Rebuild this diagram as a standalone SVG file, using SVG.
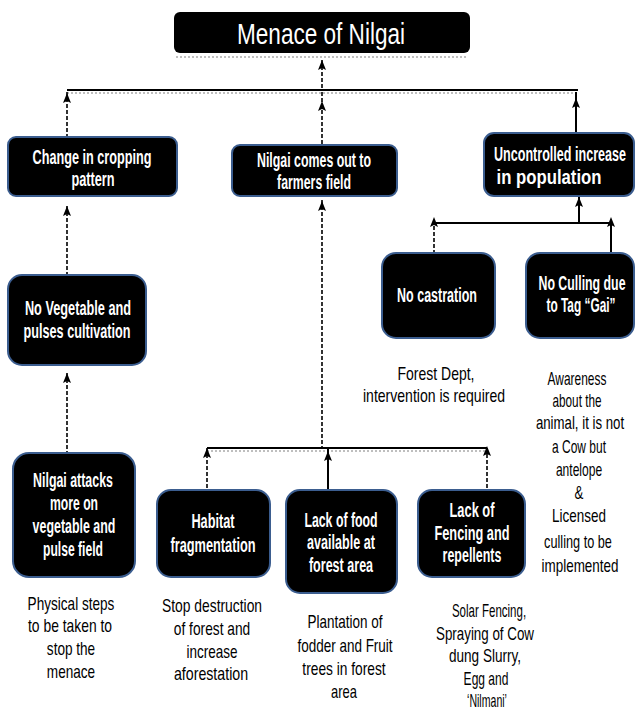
<svg xmlns="http://www.w3.org/2000/svg" xmlns:xlink="http://www.w3.org/1999/xlink" width="636" height="713" viewBox="0 0 636 713">
<style>
.box{fill:#000;stroke:#3b5d8f;stroke-width:2}
.bt{font-family:"Liberation Sans",Arial,sans-serif;font-weight:bold;font-size:21px;fill:#fff;text-anchor:middle}
.tt{font-family:"Liberation Sans",Arial,sans-serif;font-size:30px;fill:#fff;text-anchor:middle}
.pt{font-family:"Liberation Sans",Arial,sans-serif;font-size:19px;fill:#000;text-anchor:middle}
.ln{stroke:#000;stroke-width:2;fill:none}
.dl{stroke:#000;stroke-width:1.6;fill:none;stroke-dasharray:4 2}
.sh{stroke:#aaa;stroke-width:1.5;fill:none;stroke-dasharray:2 2}
</style>
<defs>
<path id="ah" d="M0,0 L-4,10 L0,8 L4,10 Z" fill="#000"/>
</defs>
<g id="connectors">
<line class="sh" x1="176" y1="57" x2="468" y2="57"/>
<line class="sh" x1="67" y1="93" x2="578" y2="93"/>
<line class="dl" x1="322" y1="60" x2="322" y2="90"/>
<line class="ln" x1="67" y1="90" x2="578" y2="90"/>
<line class="dl" x1="67" y1="92" x2="67" y2="137"/>
<line class="dl" x1="322" y1="92" x2="322" y2="145"/>
<line class="ln" x1="576" y1="92" x2="576" y2="133"/>
<line class="dl" x1="67" y1="206" x2="67" y2="275"/>
<line class="dl" x1="322" y1="200" x2="322" y2="448"/>
<line class="ln" x1="579" y1="197" x2="579" y2="223"/>
<line class="ln" x1="434" y1="223" x2="611" y2="223"/>
<line class="dl" x1="434" y1="220" x2="434" y2="253"/>
<line class="ln" x1="611" y1="220" x2="611" y2="254"/>
<line class="dl" x1="67" y1="373" x2="67" y2="453"/>
<line class="ln" x1="207" y1="448" x2="487" y2="448"/>
<line class="sh" x1="207" y1="451" x2="487" y2="451"/>
<line class="dl" x1="207" y1="448" x2="207" y2="490"/>
<line class="ln" x1="328" y1="448" x2="328" y2="490"/>
<line class="dl" x1="487" y1="448" x2="487" y2="490"/>
<use xlink:href="#ah" x="322" y="60"/>
<use xlink:href="#ah" x="67" y="93"/>
<use xlink:href="#ah" x="322" y="101"/>
<use xlink:href="#ah" x="576" y="98"/>
<use xlink:href="#ah" x="67" y="206"/>
<use xlink:href="#ah" x="322" y="201"/>
<use xlink:href="#ah" x="579" y="197"/>
<use xlink:href="#ah" x="434" y="217"/>
<use xlink:href="#ah" x="611" y="217"/>
<use xlink:href="#ah" x="67" y="373"/>
<use xlink:href="#ah" x="207" y="448"/>
<use xlink:href="#ah" x="328" y="451"/>
<use xlink:href="#ah" x="487" y="446"/>
</g>
<g id="title">
<rect x="174" y="12" width="296" height="41" rx="6" fill="#000"/>
<text class="tt" transform="translate(321,44) scale(0.75,1)" textLength="224" lengthAdjust="spacingAndGlyphs">Menace of Nilgai</text>
</g>
<g id="change">
<rect class="box" x="8" y="137" width="169" height="59" rx="8"/>
<text class="bt" transform="translate(92,164) scale(0.6,1)" textLength="198" lengthAdjust="spacingAndGlyphs">Change in cropping</text>
<text class="bt" transform="translate(93,186) scale(0.6,1)" textLength="72" lengthAdjust="spacingAndGlyphs">pattern</text>
</g>
<g id="comesout">
<rect class="box" x="232" y="145" width="165" height="51" rx="8"/>
<text class="bt" transform="translate(314,167) scale(0.6,1)" textLength="190" lengthAdjust="spacingAndGlyphs">Nilgai comes out to</text>
<text class="bt" transform="translate(314,189) scale(0.6,1)" textLength="123" lengthAdjust="spacingAndGlyphs">farmers field</text>
</g>
<g id="uncontrolled">
<rect class="box" x="484" y="133" width="150" height="63" rx="10"/>
<text class="bt" transform="translate(560,161) scale(0.6,1)" textLength="220" lengthAdjust="spacingAndGlyphs">Uncontrolled increase</text>
<text class="bt" transform="translate(549,184) scale(0.6,1)" textLength="175" lengthAdjust="spacingAndGlyphs">in  population</text>
</g>
<g id="novegetable">
<rect class="box" x="8" y="275" width="138" height="90" rx="14"/>
<text class="bt" transform="translate(78,315) scale(0.6,1)" textLength="177" lengthAdjust="spacingAndGlyphs">No Vegetable and</text>
<text class="bt" transform="translate(77,338) scale(0.6,1)" textLength="178" lengthAdjust="spacingAndGlyphs">pulses cultivation</text>
</g>
<g id="nocastration">
<rect class="box" x="382" y="253" width="113" height="85" rx="14"/>
<text class="bt" transform="translate(437,302) scale(0.6,1)" textLength="133" lengthAdjust="spacingAndGlyphs">No castration</text>
</g>
<g id="noculling">
<rect class="box" x="526" y="253" width="108" height="85" rx="14"/>
<text class="bt" transform="translate(582,290) scale(0.6,1)" textLength="145" lengthAdjust="spacingAndGlyphs">No Culling due</text>
<text class="bt" transform="translate(581,312) scale(0.6,1)" textLength="115" lengthAdjust="spacingAndGlyphs">to Tag “Gai”</text>
</g>
<g id="attacks">
<rect class="box" x="13" y="453" width="122" height="124" rx="16"/>
<text class="bt" transform="translate(73,487) scale(0.6,1)" textLength="133" lengthAdjust="spacingAndGlyphs">Nilgai attacks</text>
<text class="bt" transform="translate(74,510) scale(0.6,1)" textLength="80" lengthAdjust="spacingAndGlyphs">more on</text>
<text class="bt" transform="translate(74,533) scale(0.6,1)" textLength="138" lengthAdjust="spacingAndGlyphs">vegetable and</text>
<text class="bt" transform="translate(73,556) scale(0.6,1)" textLength="100" lengthAdjust="spacingAndGlyphs">pulse field</text>
</g>
<g id="habitat">
<rect class="box" x="157" y="490" width="113" height="87" rx="14"/>
<text class="bt" transform="translate(213,528) scale(0.6,1)" textLength="72" lengthAdjust="spacingAndGlyphs">Habitat</text>
<text class="bt" transform="translate(213,552) scale(0.6,1)" textLength="142" lengthAdjust="spacingAndGlyphs">fragmentation</text>
</g>
<g id="lackfood">
<rect class="box" x="286" y="490" width="111" height="103" rx="14"/>
<text class="bt" transform="translate(341,527) scale(0.6,1)" textLength="122" lengthAdjust="spacingAndGlyphs">Lack of food</text>
<text class="bt" transform="translate(341,549) scale(0.6,1)" textLength="113" lengthAdjust="spacingAndGlyphs">available at</text>
<text class="bt" transform="translate(341,572) scale(0.6,1)" textLength="107" lengthAdjust="spacingAndGlyphs">forest area</text>
</g>
<g id="lackfencing">
<rect class="box" x="418" y="490" width="107" height="87" rx="14"/>
<text class="bt" transform="translate(472,517) scale(0.6,1)" textLength="75" lengthAdjust="spacingAndGlyphs">Lack of</text>
<text class="bt" transform="translate(472,540) scale(0.6,1)" textLength="125" lengthAdjust="spacingAndGlyphs">Fencing and</text>
<text class="bt" transform="translate(472,562) scale(0.6,1)" textLength="98" lengthAdjust="spacingAndGlyphs">repellents</text>
</g>
<g id="notes">
<text class="pt" transform="translate(436,380) scale(0.7,1)" textLength="110" lengthAdjust="spacingAndGlyphs">Forest Dept,</text>
<text class="pt" transform="translate(434,402) scale(0.7,1)" textLength="203" lengthAdjust="spacingAndGlyphs">intervention is required</text>
<text class="pt" transform="translate(577,385) scale(0.7,1)" textLength="84" lengthAdjust="spacingAndGlyphs">Awareness</text>
<text class="pt" transform="translate(577,407) scale(0.7,1)" textLength="70" lengthAdjust="spacingAndGlyphs">about the</text>
<text class="pt" transform="translate(580,429) scale(0.7,1)" textLength="126" lengthAdjust="spacingAndGlyphs">animal, it is not</text>
<text class="pt" transform="translate(579,453) scale(0.7,1)" textLength="77" lengthAdjust="spacingAndGlyphs">a Cow but</text>
<text class="pt" transform="translate(579,476) scale(0.7,1)" textLength="66" lengthAdjust="spacingAndGlyphs">antelope</text>
<text class="pt" transform="translate(579,499) scale(0.7,1)">&amp;</text>
<text class="pt" transform="translate(579,522) scale(0.7,1)" textLength="77" lengthAdjust="spacingAndGlyphs">Licensed</text>
<text class="pt" transform="translate(578,548) scale(0.7,1)" textLength="97" lengthAdjust="spacingAndGlyphs">culling to be</text>
<text class="pt" transform="translate(580,572) scale(0.7,1)" textLength="110" lengthAdjust="spacingAndGlyphs">implemented</text>
<text class="pt" transform="translate(71,610) scale(0.7,1)" textLength="124" lengthAdjust="spacingAndGlyphs">Physical steps</text>
<text class="pt" transform="translate(70,632) scale(0.7,1)" textLength="120" lengthAdjust="spacingAndGlyphs">to be taken to</text>
<text class="pt" transform="translate(71,655) scale(0.7,1)" textLength="69" lengthAdjust="spacingAndGlyphs">stop the</text>
<text class="pt" transform="translate(71,678) scale(0.7,1)" textLength="69" lengthAdjust="spacingAndGlyphs">menace</text>
<text class="pt" transform="translate(212,612) scale(0.7,1)" textLength="143" lengthAdjust="spacingAndGlyphs">Stop destruction</text>
<text class="pt" transform="translate(212,635) scale(0.7,1)" textLength="109" lengthAdjust="spacingAndGlyphs">of forest and</text>
<text class="pt" transform="translate(212,658) scale(0.7,1)" textLength="73" lengthAdjust="spacingAndGlyphs">increase</text>
<text class="pt" transform="translate(211,680) scale(0.7,1)" textLength="106" lengthAdjust="spacingAndGlyphs">aforestation</text>
<text class="pt" transform="translate(345,628) scale(0.7,1)" textLength="107" lengthAdjust="spacingAndGlyphs">Plantation of</text>
<text class="pt" transform="translate(345,652) scale(0.7,1)" textLength="136" lengthAdjust="spacingAndGlyphs">fodder and Fruit</text>
<text class="pt" transform="translate(344,675) scale(0.7,1)" textLength="119" lengthAdjust="spacingAndGlyphs">trees in forest</text>
<text class="pt" transform="translate(344,698) scale(0.7,1)" textLength="37" lengthAdjust="spacingAndGlyphs">area</text>
<text class="pt" transform="translate(489,617) scale(0.7,1)" textLength="106" lengthAdjust="spacingAndGlyphs">Solar Fencing,</text>
<text class="pt" transform="translate(485,640) scale(0.7,1)" textLength="140" lengthAdjust="spacingAndGlyphs">Spraying of Cow</text>
<text class="pt" transform="translate(485,662) scale(0.7,1)" textLength="103" lengthAdjust="spacingAndGlyphs">dung Slurry,</text>
<text class="pt" transform="translate(486,685) scale(0.7,1)" textLength="64" lengthAdjust="spacingAndGlyphs">Egg and</text>
<text class="pt" transform="translate(487,707) scale(0.7,1)" textLength="57" lengthAdjust="spacingAndGlyphs">‘Nilmani’</text>
</g>
</svg>
